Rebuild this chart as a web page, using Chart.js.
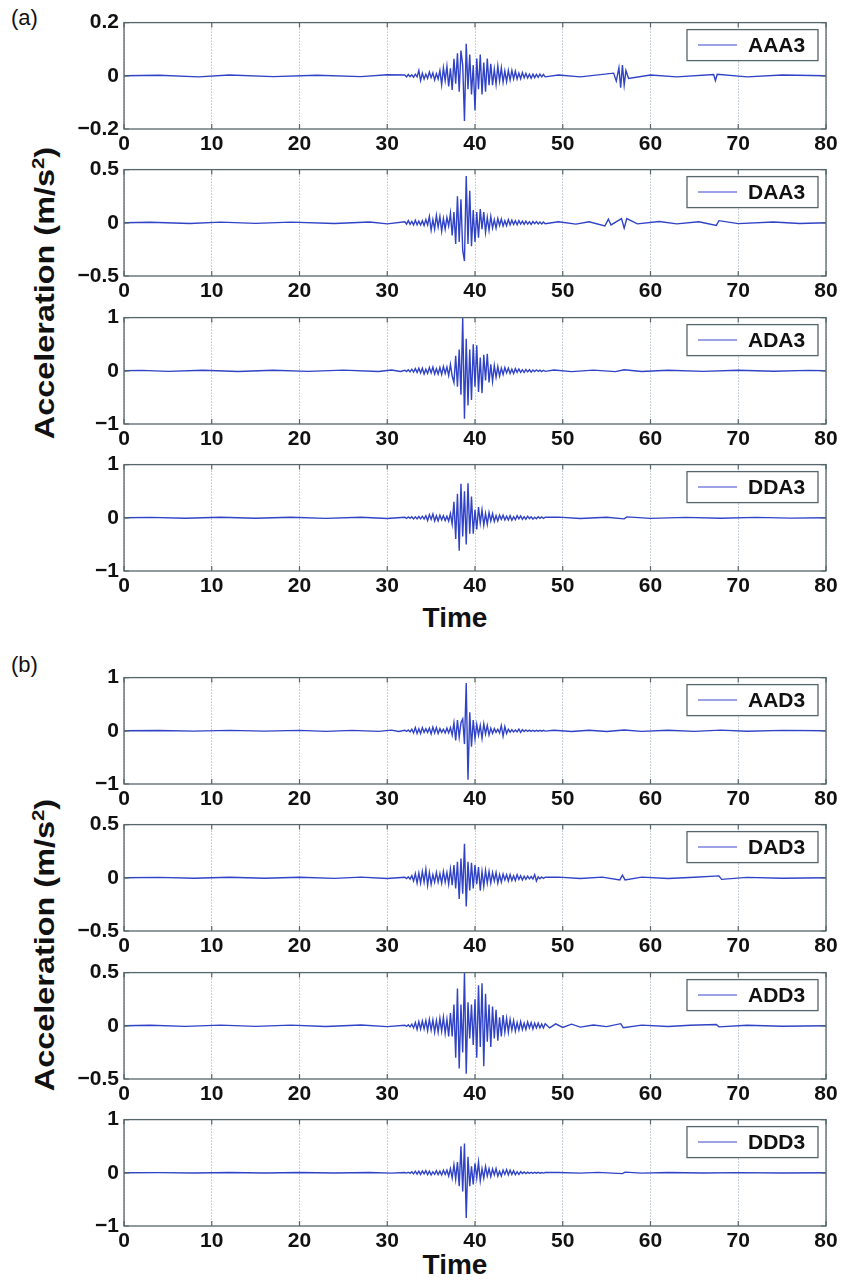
<!DOCTYPE html>
<html>
<head>
<meta charset="utf-8">
<script src="https://cdn.jsdelivr.net/npm/chart.js@4.4.0/dist/chart.umd.min.js"></script>
<style>
  html, body { margin: 0; padding: 0; background: #fff; }
  body { width: 842px; height: 1288px; position: relative; overflow: hidden; font-family: "Liberation Sans", Arial, sans-serif; color: #111; }
  canvas { position: absolute; left: 0; }
  .panel { position: absolute; font-size: 22px; }
  .xlabel { position: absolute; font-weight: bold; font-size: 28px; transform: translate(-50%, -50%); }
  .ylabel { position: absolute; font-weight: bold; font-size: 27px; white-space: nowrap;
            transform: translate(-50%, -50%) rotate(-90deg) scale(1.2, 1); }
  .ylabel sup { font-size: 17px; }
</style>
</head>
<body>
<div class="panel" style="left:11px; top:5px;">(a)</div>
<div class="panel" style="left:11px; top:652px;">(b)</div>
<div class="xlabel" style="left:455px; top:618px;">Time</div>
<div class="xlabel" style="left:455px; top:1265px;">Time</div>
<div class="ylabel" style="left:45px; top:293px;">Acceleration (m/s<sup>2</sup>)</div>
<div class="ylabel" style="left:45px; top:945px;">Acceleration (m/s<sup>2</sup>)</div>

<script>
// sampling times of the strong-motion part (s)
const burstTime = [
  32.0, 32.2, 32.4, 32.6, 32.8, 33.0, 33.2, 33.4, 33.6, 33.8,
  34.0, 34.2, 34.4, 34.6, 34.8, 35.0, 35.2, 35.4, 35.6, 35.8,
  36.0, 36.2, 36.4, 36.6, 36.8, 37.0, 37.2, 37.4, 37.6, 37.8,
  38.0, 38.2, 38.4, 38.6, 38.8, 39.0, 39.2, 39.4, 39.6, 39.8,
  40.0, 40.2, 40.4, 40.6, 40.8, 41.0, 41.2, 41.4, 41.6, 41.8,
  42.0, 42.2, 42.4, 42.6, 42.8, 43.0, 43.2, 43.4, 43.6, 43.8,
  44.0, 44.2, 44.4, 44.6, 44.8, 45.0, 45.2, 45.4, 45.6, 45.8,
  46.0, 46.2, 46.4, 46.6, 46.8, 47.0, 47.2, 47.4, 47.6, 47.8,
  48.0
];

// ---- (a) ----
const aaa3 = [
  0.003, -0.004, 0.005, -0.003, 0.004, -0.005, 0.006, -0.004, 0.02, -0.018,
  0.01, -0.012, 0.006, -0.01, 0.014, -0.007, 0.011, -0.016, 0.008, -0.012,
  0.02, -0.034, 0.03, -0.018, 0.036, -0.04, 0.028, -0.053, 0.064, -0.03,
  0.085, -0.06, 0.095, 0.04, -0.17, 0.12, -0.05, 0.08, -0.07, 0.04,
  -0.13, 0.065, -0.05, 0.08, -0.07, 0.05, -0.06, 0.065, -0.035, 0.045,
  -0.035, 0.025, -0.032, 0.037, -0.02, 0.03, -0.024, 0.018, -0.022, 0.02,
  -0.016, 0.02, -0.012, 0.017, -0.012, 0.01, -0.011, 0.012, -0.007, 0.009,
  -0.008, 0.006, -0.009, 0.006, -0.007, 0.005, -0.006, 0.006, -0.004, 0.005,
  -0.004
];
const aaa3EventT = [0, 4, 8.5, 12, 17, 22, 27, 30, 49.5, 52, 55.8, 56.1, 56.4, 56.6, 56.8, 57.0, 57.2, 57.5, 60, 63, 67.2, 67.4, 67.6, 71, 75, 80];
const aaa3EventV = [0, 0.002, -0.004, 0.003, -0.003, 0.002, -0.003, 0.004, 0.003, -0.004, 0.01, -0.02, 0.03, -0.045, 0.04, -0.035, 0.02, -0.01, 0.003, -0.004, 0.005, -0.018, 0.006, -0.004, 0.003, 0];

const daa3 = [
  0.01, -0.012, 0.02, -0.015, 0.012, -0.02, 0.025, -0.018, 0.015, -0.02,
  0.02, -0.025, 0.03, -0.02, 0.06, -0.07, 0.03, -0.06, 0.07, -0.04,
  0.06, -0.08, 0.04, -0.06, 0.05, -0.03, 0.09, -0.12, 0.1, -0.2,
  0.25, -0.18, 0.22, -0.26, -0.36, 0.44, -0.2, 0.3, -0.22, 0.12,
  -0.18, 0.1, -0.14, 0.13, -0.06, 0.1, -0.09, 0.05, -0.07, 0.06,
  -0.05, 0.03, -0.05, 0.04, -0.025, 0.035, -0.03, 0.02, -0.028, 0.03,
  -0.02, 0.025, -0.015, 0.02, -0.018, 0.02, -0.012, 0.015, -0.014, 0.015,
  -0.012, 0.01, -0.015, 0.012, -0.008, 0.012, -0.01, 0.008, -0.01, 0.008,
  -0.008
];
const daa3EventT = [0, 3, 7.5, 11, 15, 19, 24, 28, 30, 49.5, 51.5, 53, 54.8, 55.2, 55.5, 56.7, 57.0, 57.3, 58.5, 61, 63, 65.5, 67.5, 67.8, 70, 74, 77, 80];
const daa3EventV = [0, 0.005, -0.006, 0.006, -0.005, 0.006, -0.006, 0.008, -0.01, 0.01, -0.012, 0.01, -0.03, 0.035, -0.02, 0.04, -0.05, 0.04, -0.01, 0.012, -0.01, 0.01, -0.025, 0.02, -0.008, 0.008, -0.006, 0];

const ada3 = [
  0.01, -0.015, 0.02, -0.02, 0.03, -0.025, 0.04, -0.03, 0.05, -0.04,
  0.05, -0.06, 0.03, -0.05, 0.06, -0.04, 0.07, -0.06, 0.04, -0.06,
  0.06, -0.07, 0.08, -0.05, 0.07, -0.09, 0.12, -0.1, -0.22, 0.28,
  -0.3, 0.4, -0.45, 1.0, -0.9, 0.6, -0.65, 0.4, -0.55, 0.5,
  -0.3, 0.48, -0.4, 0.25, -0.42, 0.3, -0.18, 0.32, -0.22, 0.12,
  -0.2, 0.1, -0.12, 0.08, -0.1, 0.05, -0.07, 0.06, -0.04, 0.05,
  -0.05, 0.03, -0.05, 0.04, -0.03, 0.035, -0.03, 0.02, -0.03, 0.025,
  -0.02, 0.02, -0.025, 0.015, -0.015, 0.018, -0.012, 0.012, -0.015, 0.01,
  -0.01
];
const ada3EventT = [0, 2, 5, 9, 13, 17, 21, 25, 29, 30.5, 31.5, 49, 51, 53.5, 56, 57, 59, 62, 66, 70, 74, 78, 80];
const ada3EventV = [0, 0.008, -0.01, 0.01, -0.012, 0.01, -0.01, 0.012, -0.012, 0.015, -0.012, 0.015, -0.015, 0.012, -0.015, 0.02, -0.012, 0.01, -0.01, 0.01, -0.008, 0.008, 0];

const dda3 = [
  0.01, -0.012, 0.015, -0.01, 0.02, -0.02, 0.018, -0.02, 0.025, -0.02,
  0.03, -0.025, 0.04, -0.05, 0.06, -0.03, 0.07, -0.06, 0.04, -0.06,
  0.05, -0.04, 0.04, -0.05, 0.03, -0.06, 0.08, -0.12, 0.3, -0.4,
  0.45, -0.62, 0.64, -0.35, 0.5, -0.5, 0.65, -0.3, 0.4, -0.3,
  0.15, -0.22, 0.2, -0.1, 0.15, -0.14, 0.08, -0.12, 0.1, -0.06,
  0.08, -0.07, 0.04, -0.06, 0.05, -0.03, 0.05, -0.04, 0.03, -0.04,
  0.04, -0.045, 0.02, -0.035, 0.04, -0.02, 0.035, -0.03, 0.02, -0.025,
  0.03, -0.015, 0.02, -0.025, 0.012, -0.018, 0.02, -0.01, 0.015, -0.012,
  0.01
];
const dda3EventT = [0, 3, 7, 11, 15, 19, 23, 27, 30, 49.5, 52, 55, 57, 57.3, 60, 64, 68, 72, 76, 80];
const dda3EventV = [0, 0.008, -0.008, 0.01, -0.008, 0.01, -0.01, 0.01, -0.012, 0.012, -0.012, 0.01, -0.02, 0.018, -0.01, 0.008, -0.008, 0.008, -0.006, 0];

// ---- (b) ----
const aad3 = [
  0.01, -0.01, 0.015, -0.02, 0.03, -0.04, 0.06, -0.05, 0.04, -0.05,
  0.06, -0.03, 0.04, -0.03, 0.05, -0.06, 0.07, -0.04, 0.06, -0.05,
  0.04, -0.03, 0.03, -0.04, 0.05, -0.04, 0.06, -0.08, 0.15, -0.18,
  0.2, -0.12, 0.15, 0.22, -0.25, 0.9, -0.92, 0.35, -0.3, 0.2,
  -0.15, 0.12, -0.08, 0.1, -0.14, 0.13, -0.06, 0.1, -0.08, 0.05,
  -0.05, 0.04, -0.03, 0.03, -0.04, 0.1, -0.1, 0.08, -0.05, 0.03,
  -0.025, 0.02, -0.02, 0.015, -0.02, 0.03, -0.03, 0.02, -0.015, 0.015,
  -0.012, 0.012, -0.01, 0.01, -0.01, 0.01, -0.008, 0.008, -0.008, 0.008,
  -0.006
];
const aad3EventT = [0, 4, 8, 12, 16, 20, 23, 26, 29, 30.5, 31.3, 49, 51, 53, 55, 57, 59, 62, 65, 68, 71, 75, 80];
const aad3EventV = [0, 0.006, -0.006, 0.008, -0.006, 0.008, -0.01, 0.008, -0.01, 0.012, -0.012, 0.01, -0.012, 0.01, -0.012, 0.015, -0.01, 0.01, -0.01, 0.012, -0.008, 0.008, 0];

const dad3 = [
  0.005, -0.008, 0.01, -0.012, 0.02, -0.03, 0.04, -0.05, 0.045, -0.05,
  0.06, -0.04, 0.08, -0.07, 0.05, -0.06, 0.03, -0.04, 0.05, -0.04,
  0.04, -0.05, 0.06, -0.04, 0.05, -0.06, 0.08, -0.07, 0.12, -0.1,
  0.15, -0.2, 0.18, -0.15, 0.32, -0.27, 0.15, -0.12, 0.14, -0.1,
  0.12, -0.06, 0.1, -0.12, 0.06, -0.08, 0.07, -0.05, 0.06, -0.05,
  0.05, -0.03, 0.05, -0.05, 0.03, -0.04, 0.035, -0.02, 0.03, -0.03,
  0.03, -0.025, 0.02, -0.025, 0.03, -0.015, 0.02, -0.02, 0.015, -0.015,
  0.015, -0.01, 0.012, -0.012, 0.03, -0.03, 0.01, -0.008, 0.008, -0.006,
  0.005
];
const dad3EventT = [0, 4, 8, 12, 16, 20, 24, 27, 30, 49.5, 52, 54.5, 56.5, 56.8, 57.1, 59, 62, 65, 67.8, 68.1, 71, 75, 80];
const dad3EventV = [0, 0.004, -0.004, 0.005, -0.004, 0.005, -0.005, 0.006, -0.006, 0.006, -0.006, 0.006, -0.02, 0.025, -0.02, 0.006, -0.006, 0.005, 0.018, -0.015, 0.004, -0.004, 0];

const add3 = [
  0.005, -0.006, 0.01, -0.01, 0.015, -0.02, 0.03, -0.035, 0.04, -0.03,
  0.045, -0.03, 0.05, -0.045, 0.06, -0.04, 0.055, -0.06, 0.05, -0.06,
  0.07, -0.05, 0.08, -0.07, 0.06, -0.1, 0.12, -0.1, 0.2, -0.3,
  0.35, -0.4, 0.2, -0.25, 0.5, -0.45, 0.22, -0.12, 0.2, -0.18,
  0.25, -0.3, 0.38, -0.2, 0.4, -0.38, 0.3, -0.15, 0.2, -0.2,
  0.18, -0.12, 0.15, -0.14, 0.08, -0.1, 0.1, -0.06, 0.07, -0.06,
  0.06, -0.04, 0.05, -0.05, 0.03, -0.04, 0.04, -0.035, 0.025, -0.035,
  0.035, -0.02, 0.03, -0.03, 0.025, -0.02, 0.025, -0.02, 0.018, -0.02,
  0.02
];
const add3EventT = [0, 3, 7, 11, 15, 19, 23, 27, 30, 48.5, 49.2, 50, 51, 52, 53.5, 55, 56.6, 56.9, 59, 62, 64.5, 67.5, 67.8, 71, 75, 80];
const add3EventV = [0, 0.005, -0.005, 0.006, -0.005, 0.006, -0.006, 0.007, -0.008, -0.02, 0.018, -0.015, 0.015, -0.012, 0.008, -0.008, 0.02, -0.018, 0.006, -0.006, 0.005, 0.012, -0.01, 0.005, -0.004, 0];

const ddd3 = [
  0.005, -0.006, 0.01, -0.01, 0.02, -0.02, 0.03, -0.025, 0.03, -0.03,
  0.035, -0.02, 0.04, -0.035, 0.03, -0.04, 0.02, -0.03, 0.04, -0.035,
  0.03, -0.04, 0.05, -0.03, 0.05, -0.06, 0.08, -0.1, 0.15, -0.12,
  0.2, -0.25, 0.5, -0.35, 0.55, -0.85, 0.3, -0.25, 0.12, -0.22,
  0.18, -0.1, 0.2, -0.15, 0.08, -0.1, 0.12, -0.06, 0.08, -0.07,
  0.07, -0.04, 0.08, -0.06, 0.03, -0.06, 0.05, -0.03, 0.06, -0.04,
  0.05, -0.03, 0.04, -0.035, 0.02, -0.03, 0.02, -0.015, 0.015, -0.015,
  0.012, -0.012, 0.01, -0.01, 0.01, -0.008, 0.008, -0.008, 0.006, -0.006,
  0.005
];
const ddd3EventT = [0, 4, 8, 12, 16, 20, 24, 28, 30.5, 49.5, 52, 54, 56.8, 57.1, 59, 62, 66, 70, 75, 80];
const ddd3EventV = [0, 0.004, -0.004, 0.005, -0.004, 0.005, -0.005, 0.005, -0.006, 0.006, -0.006, 0.008, -0.015, 0.012, -0.006, 0.005, -0.005, 0.004, -0.004, 0];

const xTicks = [0, 10, 20, 30, 40, 50, 60, 70, 80];
const yLimits = [0.2, 0.5, 1, 1, 1, 0.5, 0.5, 1];

const panels = [
  { label: 'AAA3', vals: aaa3, evT: aaa3EventT, evV: aaa3EventV },
  { label: 'DAA3', vals: daa3, evT: daa3EventT, evV: daa3EventV },
  { label: 'ADA3', vals: ada3, evT: ada3EventT, evV: ada3EventV },
  { label: 'DDA3', vals: dda3, evT: dda3EventT, evV: dda3EventV },
  { label: 'AAD3', vals: aad3, evT: aad3EventT, evV: aad3EventV },
  { label: 'DAD3', vals: dad3, evT: dad3EventT, evV: dad3EventV },
  { label: 'ADD3', vals: add3, evT: add3EventT, evV: add3EventV },
  { label: 'DDD3', vals: ddd3, evT: ddd3EventT, evV: ddd3EventV }
];

// layout (top of each plot box, px)
const plotTops = [20, 167, 315, 462, 675, 822, 970, 1117];
const PLOT_H = 109;
const PAD_TOP = 15;
const XAXIS_H = 34;

const LINE = '#3043c6';
const LEGEND_LINE = '#7d83de';
const FRAME = '#56666b';
const GRID = '#93a8b2';
const TICK_FONT = { family: '"Liberation Sans", Arial, sans-serif', size: 21, weight: 'bold' };

function buildPoints(p) {
  const pts = [];
  const first = burstTime[0], last = burstTime[burstTime.length - 1];
  p.evT.forEach((t, i) => { if (t < first) pts.push({ x: t, y: p.evV[i] }); });
  burstTime.forEach((t, i) => pts.push({ x: t, y: p.vals[i] }));
  p.evT.forEach((t, i) => { if (t > last) pts.push({ x: t, y: p.evV[i] }); });
  return pts;
}

function fmt(v) {
  const r = Math.round(v * 10) / 10;
  if (r === 0) return '0';
  return (r < 0 ? '\u2212' : '') + String(Math.abs(r));
}

// box around axes + inward tick marks
const frame = {
  id: 'frame',
  afterDatasetsDraw(chart) {
    const { ctx, chartArea: a, scales } = chart;
    ctx.save();
    ctx.strokeStyle = FRAME;
    ctx.lineWidth = 1.3;
    ctx.strokeRect(a.left, a.top, a.right - a.left, a.bottom - a.top);
    ctx.lineWidth = 1.2;
    ctx.beginPath();
    xTicks.forEach(t => {
      const x = scales.x.getPixelForValue(t);
      ctx.moveTo(x, a.top); ctx.lineTo(x, a.top + 5);
      ctx.moveTo(x, a.bottom); ctx.lineTo(x, a.bottom - 5);
    });
    scales.y.ticks.forEach(tk => {
      const y = scales.y.getPixelForValue(tk.value);
      ctx.moveTo(a.left, y); ctx.lineTo(a.left + 5, y);
      ctx.moveTo(a.right, y); ctx.lineTo(a.right - 5, y);
    });
    ctx.stroke();
    ctx.restore();
  }
};

// boxed legend in the upper right corner
const boxLegend = {
  id: 'boxLegend',
  afterDraw(chart) {
    const { ctx, chartArea: a } = chart;
    const ds = chart.data.datasets[0];
    const w = 131, h = 31;
    const x = a.right - 8 - w, y = a.top + 7;
    ctx.save();
    ctx.fillStyle = '#fff';
    ctx.fillRect(x, y, w, h);
    ctx.strokeStyle = FRAME;
    ctx.lineWidth = 1.3;
    ctx.strokeRect(x, y, w, h);
    ctx.strokeStyle = LEGEND_LINE;
    ctx.lineWidth = 1.5;
    ctx.beginPath();
    ctx.moveTo(x + 11, y + h / 2);
    ctx.lineTo(x + 50, y + h / 2);
    ctx.stroke();
    ctx.fillStyle = '#111';
    ctx.font = 'bold 21px "Liberation Sans", Arial, sans-serif';
    ctx.textBaseline = 'middle';
    ctx.fillText(ds.label, x + 61, y + h / 2 + 1);
    ctx.restore();
  }
};

panels.forEach((p, i) => {
  const cv = document.createElement('canvas');
  cv.width = 842;
  cv.height = PAD_TOP + PLOT_H + XAXIS_H;
  cv.style.top = (plotTops[i] - PAD_TOP) + 'px';
  cv.style.width = '842px';
  cv.style.height = cv.height + 'px';
  document.body.appendChild(cv);

  const lim = yLimits[i];
  new Chart(cv.getContext('2d'), {
    type: 'line',
    data: {
      datasets: [{
        label: p.label,
        data: buildPoints(p),
        borderColor: LINE,
        borderWidth: 1.4,
        pointRadius: 0,
        tension: 0
      }]
    },
    options: {
      responsive: false,
      animation: false,
      events: [],
      layout: { padding: { top: PAD_TOP, right: 16, left: 0, bottom: 0 } },
      plugins: { legend: { display: false }, tooltip: { enabled: false } },
      scales: {
        x: {
          type: 'linear',
          min: 0,
          max: 80,
          afterBuildTicks: s => { s.ticks = xTicks.map(v => ({ value: v })); },
          afterFit: s => { s.height = XAXIS_H; },
          ticks: { color: '#111', font: TICK_FONT, padding: 3, maxRotation: 0, autoSkip: false },
          grid: { color: GRID, lineWidth: 1, drawTicks: false },
          border: { display: false, dash: [1, 2] }
        },
        y: {
          min: -lim,
          max: lim,
          afterBuildTicks: s => { s.ticks = [-lim, 0, lim].map(v => ({ value: v })); },
          afterFit: s => { s.width = 124; },
          ticks: { color: '#111', font: TICK_FONT, padding: 5, callback: v => fmt(v) },
          grid: { display: false, drawTicks: false },
          border: { display: false }
        }
      }
    },
    plugins: [frame, boxLegend]
  });
});
</script>
</body>
</html>
